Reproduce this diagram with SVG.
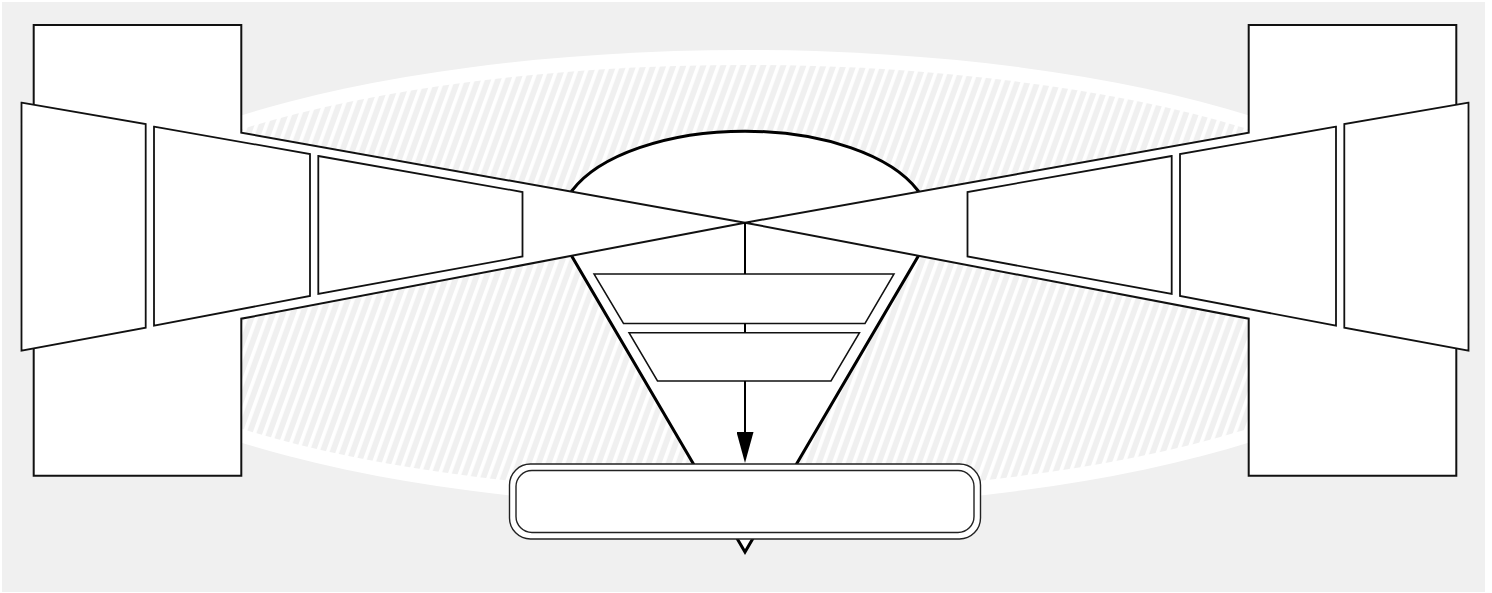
<svg xmlns="http://www.w3.org/2000/svg" width="1492" height="593" viewBox="0 0 1492 593">
<defs>
<style>
.box{fill:#fff;stroke:#111;stroke-width:2;stroke-linejoin:miter}
.panel{fill:#fff;stroke:#111;stroke-width:1.8}
.cone{fill:#fff;stroke:#000;stroke-width:3;stroke-linejoin:miter}
.trap{fill:#fff;stroke:#111;stroke-width:1.5}
.conn{fill:none;stroke:#000;stroke-width:2}
.term{fill:#fff;stroke:#222;stroke-width:1.4}
</style>
<pattern id="hatch" patternUnits="userSpaceOnUse" width="9.4" height="20" patternTransform="rotate(20)">
<rect width="9.4" height="20" fill="#f0f0f0"/>
<rect x="0" y="0" width="3.6" height="20" fill="#ffffff"/>
</pattern>
<marker id="arrow" markerUnits="userSpaceOnUse" markerWidth="31" markerHeight="17" viewBox="0 0 31 17" refX="18" refY="8.5" orient="auto">
<path d="M0 0 L31 8.5 L0 17 Z" fill="#000"/>
</marker>
</defs>
<rect x="2" y="2" width="1483" height="590" fill="#f0f0f0"/>
<g id="backdrop">
<ellipse cx="745" cy="279" rx="720" ry="229" fill="#ffffff"/>
<ellipse cx="745" cy="279" rx="705" ry="214" fill="url(#hatch)"/>
</g>
<g id="cone">
<path class="cone" d="M571.7 191 A185 92 0 0 1 918.3 191 L918.3 256 L745 552 L571.7 256 Z"/>
</g>
<g id="left-block">
<path class="box" d="M33.7 25 H241.3 V132.7 L745 222.7 L241.3 318.7 V475.7 H33.7 Z"/>
</g>
<g id="right-block">
<path class="box" d="M1456.3 25 H1248.7 V132.7 L745 222.7 L1248.7 318.7 V475.7 H1456.3 Z"/>
</g>
<g id="left-panel-1"><polygon class="panel" points="21.5,102.7 145.7,124 145.7,327.7 21.5,350.7"/></g>
<g id="left-panel-2"><polygon class="panel" points="154,126.7 310,154 310,296 154,325.7"/></g>
<g id="left-panel-3"><polygon class="panel" points="318.3,156 522.5,192 522.5,256.5 318.3,294"/></g>
<g id="right-panel-1"><polygon class="panel" points="1468.5,102.7 1344.3,124 1344.3,327.7 1468.5,350.7"/></g>
<g id="right-panel-2"><polygon class="panel" points="1336,126.7 1180,154 1180,296 1336,325.7"/></g>
<g id="right-panel-3"><polygon class="panel" points="1171.7,156 967.5,192 967.5,256.5 1171.7,294"/></g>
<g id="step-1"><polygon class="trap" points="594,274 894,274 865,323.5 623.5,323.5"/></g>
<g id="step-2"><polygon class="trap" points="629,332.7 859.5,332.7 831,381 657.5,381"/></g>
<g id="connectors">
<line class="conn" x1="745" y1="222.7" x2="745" y2="274"/>
<line class="conn" x1="745" y1="323.5" x2="745" y2="332.7"/>
<line class="conn" x1="745" y1="381" x2="745" y2="450" marker-end="url(#arrow)"/>
</g>
<g id="terminal">
<rect class="term" x="509.5" y="464" width="471" height="75" rx="21" ry="21"/>
<rect class="term" x="516" y="470.5" width="458" height="62" rx="16" ry="16"/>
</g>
</svg>
